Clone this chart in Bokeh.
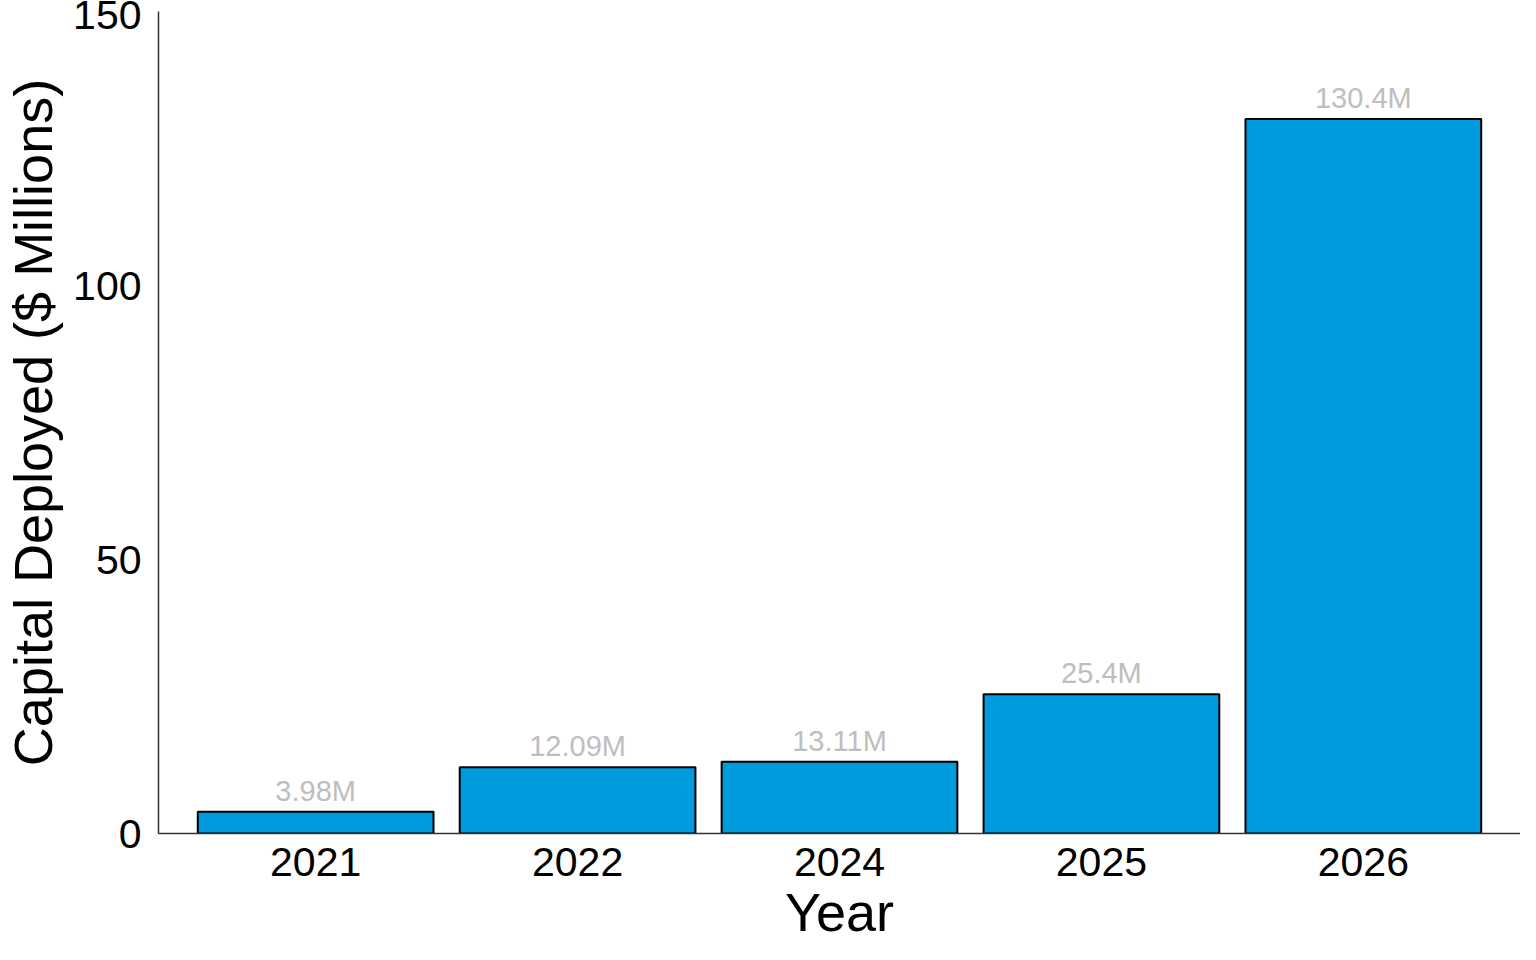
from bokeh.plotting import figure
from bokeh.models import ColumnDataSource, Range1d, FixedTicker
from bokeh.core.properties import value
from bokeh.embed import file_html
from bokeh.resources import INLINE

years = ["2021", "2022", "2024", "2025", "2026"]
capital = [3.98, 12.09, 13.11, 25.4, 130.4]
labels = ["3.98M", "12.09M", "13.11M", "25.4M", "130.4M"]
y_ticks = [0, 50, 100, 150]

xpos = list(range(1, len(years) + 1))
src = ColumnDataSource(dict(x=xpos, top=capital, lab=labels))

FONT = "Liberation Sans"

p = figure(
    output_backend="svg", toolbar_location=None,
    width=1520, height=944,
    min_border_left=158, min_border_right=0, min_border_top=11, min_border_bottom=111,
    x_range=Range1d(0.4, 5.6), y_range=Range1d(0, 150),
)

p.vbar(x="x", top="top", width=0.9, bottom=0, source=src,
       fill_color="#009ADE", line_color="black", line_width=2)
p.text(x="x", y="top", text="lab", source=src, text_align="center",
       text_baseline="bottom", y_offset=-5, text_color="#BEBEBE",
       text_font=value(FONT), text_font_size="29px")

p.xgrid.visible = False
p.ygrid.visible = False
p.outline_line_color = None
p.background_fill_color = "white"
p.border_fill_color = "white"

p.xaxis.ticker = FixedTicker(ticks=xpos)
p.xaxis.major_label_overrides = {i: y for i, y in zip(xpos, years)}
p.yaxis.ticker = FixedTicker(ticks=y_ticks)

for ax in (p.xaxis[0], p.yaxis[0]):
    ax.axis_line_color = "#333333"
    ax.axis_line_width = 1.5
    ax.major_tick_line_color = None
    ax.minor_tick_line_color = None
    ax.major_tick_out = 0
    ax.major_tick_in = 0
    ax.major_label_text_font = FONT
    ax.major_label_text_font_size = "41px"
    ax.major_label_text_color = "black"
    ax.major_label_text_line_height = 1.0
    ax.axis_label_text_font = FONT
    ax.axis_label_text_font_size = "54px"
    ax.axis_label_text_font_style = "normal"
    ax.axis_label_text_color = "black"
    ax.axis_label_text_line_height = 1.0

p.xaxis.axis_label = "Year"
p.yaxis.axis_label = "Capital Deployed ($ Millions)"
p.xaxis.major_label_standoff = 14
p.xaxis.axis_label_text_line_height = 0.9
p.yaxis.major_label_standoff = 17
p.xaxis.axis_label_standoff = 3
p.yaxis.axis_label_standoff = 7

open("out.html", "w").write(file_html(p, INLINE))
